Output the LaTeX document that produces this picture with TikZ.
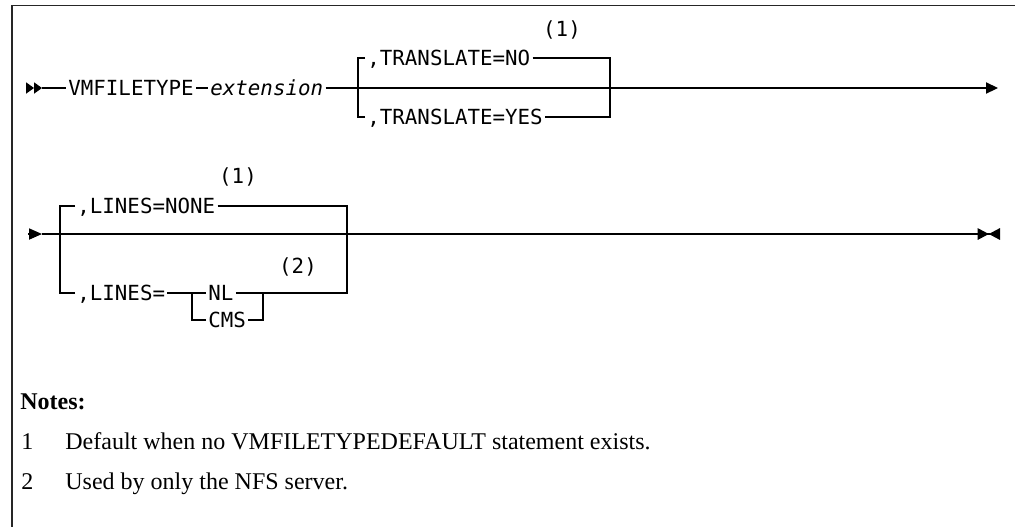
\documentclass[tikz,border=0pt]{standalone}
\usepackage{fontspec}
\setmainfont{Liberation Serif}
\setmonofont{DejaVu Sans Mono}
\usetikzlibrary{arrows.meta,positioning}

\tikzset{
  kw/.style={font=\ttfamily\fontsize{10.4}{12}\selectfont, anchor=west,
    inner xsep=1pt, inner ysep=0pt, text height=7.6pt, text depth=0pt},
  ref/.style={font=\ttfamily\fontsize{10.4}{12}\selectfont, inner sep=0pt},
  rail/.style={line width=0.6pt},
  tip/.style={-{Triangle[length=#1,width=5.6pt]}},
  note/.style={font=\fontsize{12}{14}\selectfont, anchor=base west, inner sep=0pt},
}

\begin{document}
\begin{tikzpicture}[x=0.5pt,y=-0.5pt]
    \useasboundingbox (0,0) rectangle (1015,527);
    % Rahmen oben und links
    \draw[line width=0.8pt, black!85] (1015,5.5) -- (12,5.5) -- (12,527);

    % Zeile 1
    \coordinate (s1a) at (26,88);
    \coordinate (s1m) at (34,88);
    \coordinate (s1b) at (42,88);
    \coordinate (e1) at (998,88);
    \coordinate (j1a) at (358,88);
    \coordinate (j1b) at (610,88);
    \node[kw] (vmf) at (66,88) {VMFILETYPE};
    \node[kw, font=\ttfamily\itshape\fontsize{10.4}{12}\selectfont] (ext) at (208,88) {extension};
    \node[kw] (tno) at (365,58) {,TRANSLATE=NO};
    \node[kw] (tyes) at (365,117) {,TRANSLATE=YES};
    \node[ref] (n1a) at (562,30) {(1)};
    \draw[rail, tip=4pt] (s1a) -- (s1m);
    \draw[rail, tip=4pt] (s1m) -- (s1b);
    \draw[rail] (s1b) -- (vmf.west);
    \draw[rail] (vmf.east) -- (ext.west);
    \draw[rail, tip=6pt] (ext.east) -- (e1);
    \draw[rail] (tno.west) -| (j1a);
    \draw[rail] (tyes.west) -| (j1a);
    \draw[rail] (tno.east) -| (j1b);
    \draw[rail] (tyes.east) -| (j1b);

    % Zeile 2
    \coordinate (s2a) at (28,234);
    \coordinate (s2b) at (42,234);
    \coordinate (e2) at (1000,234);
    \coordinate (j2a) at (60,234);
    \coordinate (j2b) at (347,234);
    \coordinate (j3a) at (192,293);
    \coordinate (j3b) at (263,293);
    \node[kw] (lnone) at (75,206) {,LINES=NONE};
    \node[kw] (llines) at (75,293) {,LINES=};
    \node[kw] (nl) at (206,293) {NL};
    \node[kw] (cms) at (206,320) {CMS};
    \node[ref] (n1b) at (238,177) {(1)};
    \node[ref] (n2) at (298,267) {(2)};
    \draw[rail, tip=6.5pt] (s2a) -- (s2b);
    \draw[rail, -{Triangle[length=5.6pt,width=5.8pt]Triangle[length=5.6pt,width=5.8pt,reversed]}] (s2b) -- (e2);
    \draw[rail] (lnone.west) -| (j2a);
    \draw[rail] (llines.west) -| (j2a);
    \draw[rail] (lnone.east) -| (j2b);
    \draw[rail] (llines.east) -- (nl.west);
    \draw[rail] (cms.west) -| (j3a);
    \draw[rail] (nl.east) -- (j3b);
    \draw[rail] (cms.east) -| (j3b);
    \draw[rail] (j3b) -| (j2b);

    % Fussnoten
    \node[note, font=\bfseries\fontsize{12}{14}\selectfont] (notes) at (20,409) {Notes:};
    \foreach \i/\y/\txt in {1/449/Default when no VMFILETYPEDEFAULT statement exists.,
                            2/489/Used by only the NFS server.} {
        \node[note] (num\i) at (21,\y) {\i};
        \node[note] (txt\i) at (65,\y) {\txt};
    }
\end{tikzpicture}
\end{document}
